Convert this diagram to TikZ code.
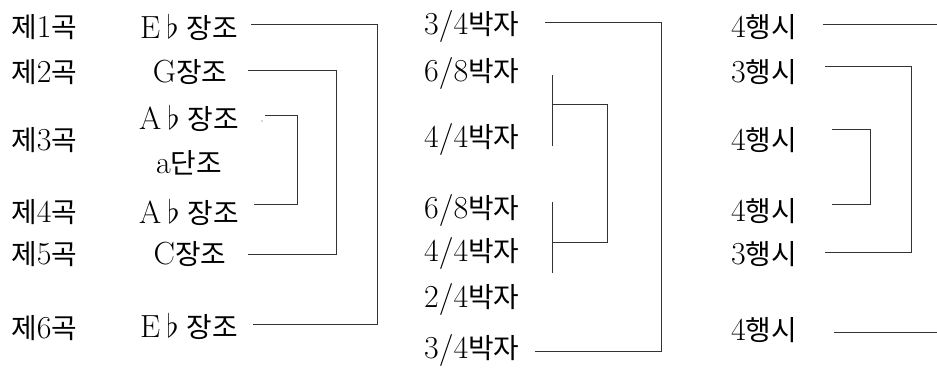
\documentclass[tikz,border=0pt]{standalone}
\usepackage{fontspec}
\setmainfont{Latin Modern Roman}
\newfontfamily\kr[Scale=0.87]{Noto Sans CJK KR}
\newcommand{\hg}[1]{{\kr #1}}
\newcommand{\fl}{\hspace{6pt}\scalebox{1.3}{$\flat$}\hspace{8pt}}
\begin{document}
\begin{tikzpicture}[x=1pt,y=-1pt,
  lbl/.style={inner sep=0pt, font=\fontsize{32}{34}\selectfont},
  lblw/.style={lbl, anchor=west},
  link/.style={draw=black!80, line width=0.8pt}]
\useasboundingbox (0,0) rectangle (937,371);

% piece numbers
\node[lblw] (p1) at (11,27)  {\hg{제}1\hg{곡}};
\node[lblw] (p2) at (11,72)  {\hg{제}2\hg{곡}};
\node[lblw] (p3) at (11,140) {\hg{제}3\hg{곡}};
\node[lblw] (p4) at (11,212) {\hg{제}4\hg{곡}};
\node[lblw] (p5) at (11,254) {\hg{제}5\hg{곡}};
\node[lblw] (p6) at (11,328) {\hg{제}6\hg{곡}};

% keys
\node[lbl] (k1) at (189,27)  {E\fl\hg{장조}};
\node[lbl] (k2) at (190,72)  {G\hg{장조}};
\node[lbl] (k3) at (189,118) {A\fl\hg{장조}};
\node[lbl] (k3b) at (189,163) {a\hg{단조}};
\node[lbl] (k4) at (189,212) {A\fl\hg{장조}};
\node[lbl] (k5) at (190,254) {C\hg{장조}};
\node[lbl] (k6) at (189,326) {E\fl\hg{장조}};
\fill[black!70] (262,121) circle (0.7);

% metres
\node[lblw] (m1) at (424,27)  {3/4\hg{박자}};
\node[lblw] (m2) at (424,74)  {6/8\hg{박자}};
\node[lblw] (m3) at (424,140) {4/4\hg{박자}};
\node[lblw] (m4) at (424,211) {6/8\hg{박자}};
\node[lblw] (m5) at (424,254) {4/4\hg{박자}};
\node[lblw] (m6) at (424,300) {2/4\hg{박자}};
\node[lblw] (m7) at (424,350) {3/4\hg{박자}};

% verse lengths
\node[lblw] (v1) at (731,27)  {4\hg{행시}};
\node[lblw] (v2) at (731,72)  {3\hg{행시}};
\node[lblw] (v3) at (731,140) {4\hg{행시}};
\node[lblw] (v4) at (731,211) {4\hg{행시}};
\node[lblw] (v5) at (731,254) {3\hg{행시}};
\node[lblw] (v6) at (731,330) {4\hg{행시}};

% connector end points
\coordinate (k1e) at (251,24);  \coordinate (k6e) at (253,324); \coordinate (kA) at (377,0);
\coordinate (k2e) at (248,70);  \coordinate (k5e) at (248,254); \coordinate (kB) at (336,0);
\coordinate (k3e) at (265,115); \coordinate (k4e) at (254,204); \coordinate (kC) at (297,0);

\coordinate (m1e) at (545,22);  \coordinate (m7e) at (535,351); \coordinate (mA) at (661,0);
\coordinate (b1t) at (552,75);  \coordinate (b1b) at (552,146); \coordinate (b1m) at (552,104);
\coordinate (b2t) at (552,202); \coordinate (b2b) at (552,273); \coordinate (b2m) at (552,242);
\coordinate (mB) at (607,0);

\coordinate (v1e) at (823,24);  \coordinate (v1r) at (937,24);
\coordinate (v2e) at (825,66);  \coordinate (v5e) at (825,252); \coordinate (vA) at (911,0);
\coordinate (v3e) at (832,129); \coordinate (v4e) at (832,204); \coordinate (vB) at (870,0);
\coordinate (v6e) at (834,332); \coordinate (v6r) at (937,332);

% key brackets
\draw[link] (k1e) -- (k1e -| kA) -- (k6e -| kA) -- (k6e);
\draw[link] (k2e) -- (k2e -| kB) -- (k5e -| kB) -- (k5e);
\draw[link] (k3e) -- (k3e -| kC) -- (k4e -| kC) -- (k4e);

% metre brackets
\draw[link] (m1e) -- (m1e -| mA) -- (m7e -| mA) -- (m7e);
\draw[link] (b1t) -- (b1b);
\draw[link] (b2t) -- (b2b);
\draw[link] (b1m) -- (b1m -| mB) -- (b2m -| mB) -- (b2m);

% verse brackets
\draw[link] (v1e) -- (v1r);
\draw[link] (v2e) -- (v2e -| vA) -- (v5e -| vA) -- (v5e);
\draw[link] (v3e) -- (v3e -| vB) -- (v4e -| vB) -- (v4e);
\draw[link] (v6e) -- (v6r);
\end{tikzpicture}
\end{document}
